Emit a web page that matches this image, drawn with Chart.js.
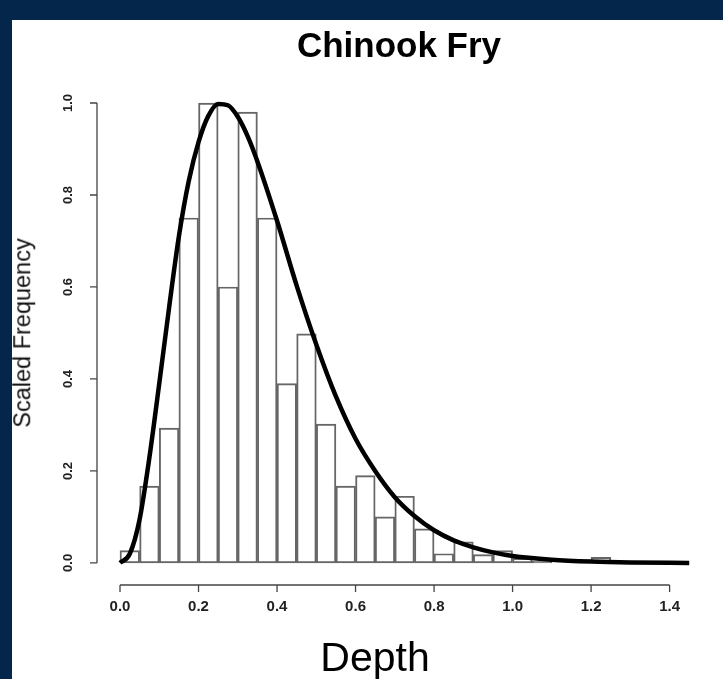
<!DOCTYPE html>
<html>
<head>
<meta charset="utf-8">
<title>Chinook Fry</title>
<script src="https://cdn.jsdelivr.net/npm/chart.js@4.4.1/dist/chart.umd.min.js"></script>
<style>
    html, body { margin: 0; padding: 0; }
    body {
        width: 723px; height: 679px; position: relative; overflow: hidden;
        background: #03264a;
        font-family: 'Liberation Sans', Arial, sans-serif;
    }
    #panel { position: absolute; left: 12px; top: 20px; right: 0; bottom: 0; background: #fff; }
    #chart { position: absolute; left: 0; top: 0; }
    .lbl { position: absolute; color: #000; white-space: nowrap; line-height: 1; }
    #title { left: 399px; top: 27px; font-size: 35px; font-weight: bold; transform: translateX(-50%); }
    #xlab { left: 375px; top: 637px; font-size: 41px; transform: translateX(-50%); }
    #ylab { left: 23px; top: 333px; font-size: 23.5px; color: #111; transform: translate(-50%, -50%) rotate(-90deg); }
</style>
</head>
<body>
<div id="panel"></div>
<canvas id="chart" width="723" height="679"></canvas>
<div class="lbl" id="title">Chinook Fry</div>
<div class="lbl" id="ylab">Scaled Frequency</div>
<div class="lbl" id="xlab">Depth</div>
<script>
// histogram bins (start of each 0.05 bin) and scaled heights
const binWidth = 0.05;
const binStarts = [0.00, 0.05, 0.10, 0.15, 0.20, 0.25, 0.30, 0.35, 0.40, 0.45, 0.50, 0.55,
                   0.60, 0.65, 0.70, 0.75, 0.80, 0.85, 0.90, 0.95, 1.00, 1.05, 1.10, 1.15, 1.20];
const binHeights = [0.027, 0.167, 0.293, 0.75, 1.0, 0.6, 0.98, 0.75, 0.39, 0.498, 0.302, 0.167,
                    0.19, 0.10, 0.145, 0.074, 0.02, 0.046, 0.018, 0.027, 0.01, 0.004, 0, 0, 0.012];

// fitted curve
const curveX = [0, 0.025, 0.05, 0.075, 0.1, 0.125, 0.15, 0.175, 0.2, 0.225, 0.25, 0.275,
                0.3, 0.325, 0.35, 0.4, 0.45, 0.5, 0.55, 0.6, 0.65, 0.7, 0.75, 0.8,
                0.85, 0.9, 0.95, 1.0, 1.1, 1.2, 1.3, 1.45];
const curveY = [0, 0.02, 0.095, 0.23, 0.39, 0.555, 0.71, 0.83, 0.915, 0.972, 0.998, 0.995,
                0.97, 0.928, 0.873, 0.744, 0.603, 0.475, 0.362, 0.27, 0.2, 0.143, 0.102, 0.071,
                0.049, 0.034, 0.023, 0.015, 0.007, 0.003, 0.001, 0];

const xTicks = [0, 0.2, 0.4, 0.6, 0.8, 1.0, 1.2, 1.4];
const yTicks = [0, 0.2, 0.4, 0.6, 0.8, 1.0];

// R style axes: lines only span the tick range, ticks point outward
const rAxes = {
    id: 'rAxes',
    afterDraw(chart) {
        const { ctx, chartArea } = chart;
        const x = chart.scales.x, y = chart.scales.y;
        const yb = chartArea.bottom, xl = chartArea.left;
        ctx.save();
        ctx.strokeStyle = '#444';
        ctx.lineWidth = 1.3;
        ctx.beginPath();
        ctx.moveTo(x.getPixelForValue(xTicks[0]), yb);
        ctx.lineTo(x.getPixelForValue(xTicks[xTicks.length - 1]), yb);
        xTicks.forEach(t => {
            const px = x.getPixelForValue(t);
            ctx.moveTo(px, yb);
            ctx.lineTo(px, yb + 7);
        });
        ctx.moveTo(xl, y.getPixelForValue(yTicks[0]));
        ctx.lineTo(xl, y.getPixelForValue(yTicks[yTicks.length - 1]));
        yTicks.forEach(t => {
            const py = y.getPixelForValue(t);
            ctx.moveTo(xl, py);
            ctx.lineTo(xl - 7, py);
        });
        ctx.stroke();

        ctx.fillStyle = '#222';
        ctx.font = "bold 15px 'Liberation Sans', Arial, sans-serif";
        ctx.textAlign = 'center';
        ctx.textBaseline = 'middle';
        xTicks.forEach(t => ctx.fillText(t.toFixed(1), x.getPixelForValue(t), yb + 22));
        ctx.font = "bold 13px 'Liberation Sans', Arial, sans-serif";
        yTicks.forEach(t => {
            ctx.save();
            ctx.translate(xl - 29, y.getPixelForValue(t));
            ctx.rotate(-Math.PI / 2);
            ctx.fillText(t.toFixed(1), 0, 0);
            ctx.restore();
        });
        ctx.restore();
    }
};

new Chart(document.getElementById('chart'), {
    type: 'bar',
    data: {
        datasets: [
            {
                type: 'line',
                data: curveX.map((v, i) => ({ x: v, y: curveY[i] })),
                borderColor: '#000',
                borderWidth: 4.5,
                pointRadius: 0,
                cubicInterpolationMode: 'monotone',
                fill: false,
                order: 0
            },
            {
                type: 'bar',
                data: binStarts.map((s, i) => ({ x: s + binWidth / 2, y: binHeights[i] })),
                backgroundColor: 'rgba(255,255,255,0)',
                borderColor: '#666',
                borderWidth: 1.3,
                borderSkipped: false,
                barPercentage: 1,
                categoryPercentage: 1,
                order: 1
            }
        ]
    },
    options: {
        responsive: false,
        animation: false,
        devicePixelRatio: 1,
        layout: { padding: { left: 97, top: 84.6, right: 11, bottom: 94 } },
        plugins: { legend: { display: false }, tooltip: { enabled: false } },
        scales: {
            x: { type: 'linear', offset: false, min: -0.0586, max: 1.508, display: false },
            y: { type: 'linear', min: -0.048, max: 1.04, display: false }
        }
    },
    plugins: [rAxes]
});
</script>
</body>
</html>
